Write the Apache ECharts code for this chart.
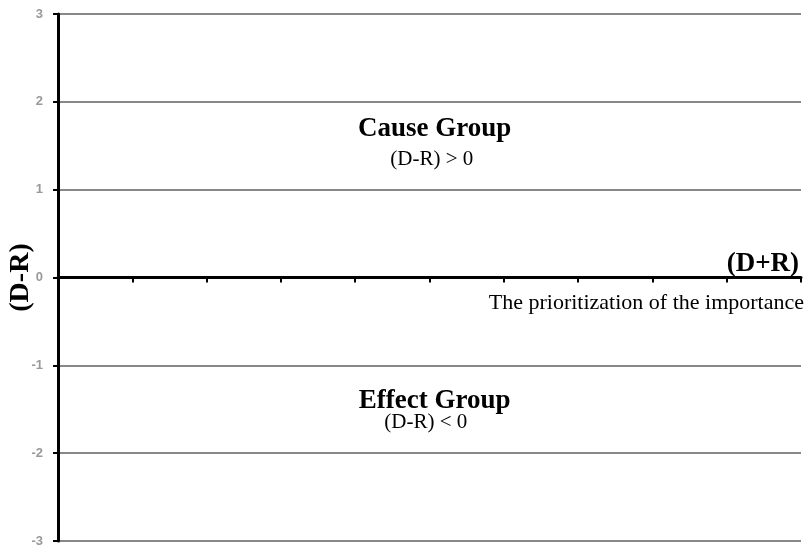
<!DOCTYPE html>
<html>
<head>
<meta charset="utf-8">
<script src="https://cdn.jsdelivr.net/npm/echarts@6/dist/echarts.min.js"></script>
<style>html,body{margin:0;padding:0;background:#fff;}#c{width:810px;height:551px;}</style>
</head>
<body>
<div id="c"></div>
<script>
// axis ranges and ticks
var xMin = 0, xMax = 10, xStep = 1;
var yMin = -3, yMax = 3, yStep = 1;
var yAxisTitle = '(D-R)';
var xAxisTitle = '(D+R)';
// annotation texts and their data positions
var annoTexts = ['Cause Group', '(D-R) > 0', 'Effect Group', '(D-R) < 0', 'The prioritization of the importance'];
var annoX = [5.07, 5.03, 5.07, 4.95, 10];
var annoY = [1.69, 1.34, -1.41, -1.65, -0.29];
var annoKind = ['title', 'sub', 'title', 'sub', 'note'];

var styles = {
  title: {fontFamily: 'Liberation Serif', fontWeight: 'bold', fontSize: 27, color: '#000', align: 'center', verticalAlign: 'middle'},
  sub: {fontFamily: 'Liberation Serif', fontSize: 21, color: '#000', align: 'center', verticalAlign: 'middle'},
  note: {fontFamily: 'Liberation Serif', fontSize: 22, color: '#000', align: 'right', verticalAlign: 'middle', offset: [3, 0]}
};
var annoData = annoTexts.map(function (t, i) {
  var s = styles[annoKind[i]];
  return {
    value: [annoX[i], annoY[i]],
    label: Object.assign({show: true, position: 'inside', formatter: t, opacity: 1}, s)
  };
});

var chart = echarts.init(document.getElementById('c'), null, {renderer: 'canvas'});
chart.setOption({
  animation: false,
  backgroundColor: '#fff',
  grid: {left: 58, right: 9, top: 14, bottom: 10, containLabel: false, outerBoundsMode: 'none'},
  xAxis: {
    type: 'value', min: xMin, max: xMax, interval: xStep,
    name: xAxisTitle, nameLocation: 'end', nameGap: -2, nameMoveOverlap: false,
    nameTextStyle: {fontFamily: 'Liberation Serif', fontWeight: 'bold', fontSize: 27, color: '#000', align: 'right', verticalAlign: 'bottom', padding: [0, 0, 0, 0]},
    axisLine: {show: true, onZero: true, lineStyle: {color: '#000', width: 3}},
    axisTick: {show: true, length: 5, lineStyle: {color: '#000', width: 2}},
    axisLabel: {show: false},
    splitLine: {show: false}
  },
  yAxis: {
    type: 'value', min: yMin, max: yMax, interval: yStep,
    name: yAxisTitle, nameLocation: 'middle', nameRotate: 90, nameGap: 23, nameMoveOverlap: false,
    nameTextStyle: {fontFamily: 'Liberation Serif', fontWeight: 'bold', fontSize: 28, color: '#000'},
    axisLine: {show: true, onZero: false, lineStyle: {color: '#000', width: 3}},
    axisTick: {show: true, length: 5, lineStyle: {color: '#000', width: 2}},
    axisLabel: {show: true, margin: 15, color: '#999', fontWeight: 'bold', fontSize: 13, fontFamily: 'Liberation Sans'},
    splitLine: {show: true, lineStyle: {color: '#888', width: 2}}
  },
  series: [{
    type: 'scatter',
    symbolSize: 0,
    silent: true,
    clip: false,
    itemStyle: {opacity: 1},
    data: annoData
  }]
});
</script>
</body>
</html>
